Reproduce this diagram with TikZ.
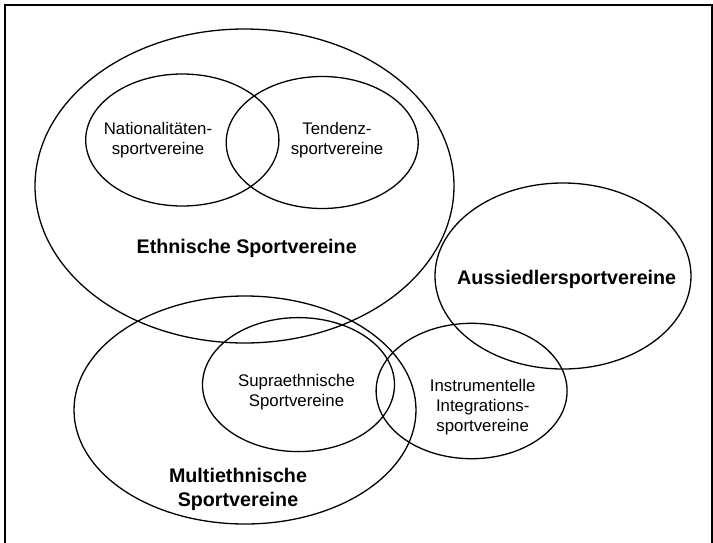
\documentclass[tikz,border=0pt]{standalone}
\usepackage{fontspec}
\setmainfont{Liberation Sans}

\tikzset{
  set/.style={draw, line width=1.3pt},
  smalllabel/.style={align=center, inner sep=0pt, font=\fontsize{16.8}{20}\selectfont},
  biglabel/.style={align=center, inner sep=0pt, font=\fontsize{19.7}{23.3}\selectfont\bfseries},
}

\begin{document}
\begin{tikzpicture}[x=1pt, y=-1pt]
	\useasboundingbox (0,0) rectangle (713,542);
	\draw[line width=2pt] (4.7,5) rectangle (711.5,560);
	% ethnic clubs and their two subsets
	\draw[set] (244.5,186) ellipse [x radius=209.5, y radius=157];
	\draw[set] (182.3,140) ellipse [x radius=96.6, y radius=66];
	\draw[set] (322.2,142.5) ellipse [x radius=96, y radius=66];
	% resettler clubs
	\draw[set] (563,276) ellipse [x radius=128, y radius=93];
	% multi-ethnic clubs
	\draw[set] (245,410) ellipse [x radius=171, y radius=114];
	\draw[set] (298.5,384.6) ellipse [x radius=96, y radius=67];
	\draw[set] (471.6,391) ellipse [x radius=95.5, y radius=67.7];
	\node (nat) at (158,140) [smalllabel] {Nationalitäten-\\sportvereine};
	\node (tend) at (337,140) [smalllabel] {Tendenz-\\sportvereine};
	\node (ethn) at (246.7,248) [biglabel] {Ethnische Sportvereine};
	\node (auss) at (566.7,279) [biglabel] {Aussiedlersportvereine};
	\node (supra) at (296.5,392.5) [smalllabel] {Supraethnische\\Sportvereine};
	\node (instr) at (482.7,407.5) [smalllabel] {Instrumentelle\\Integrations-\\sportvereine};
	\node (multi) at (238,489.5) [biglabel] {Multiethnische\\Sportvereine};
\end{tikzpicture}
\end{document}
